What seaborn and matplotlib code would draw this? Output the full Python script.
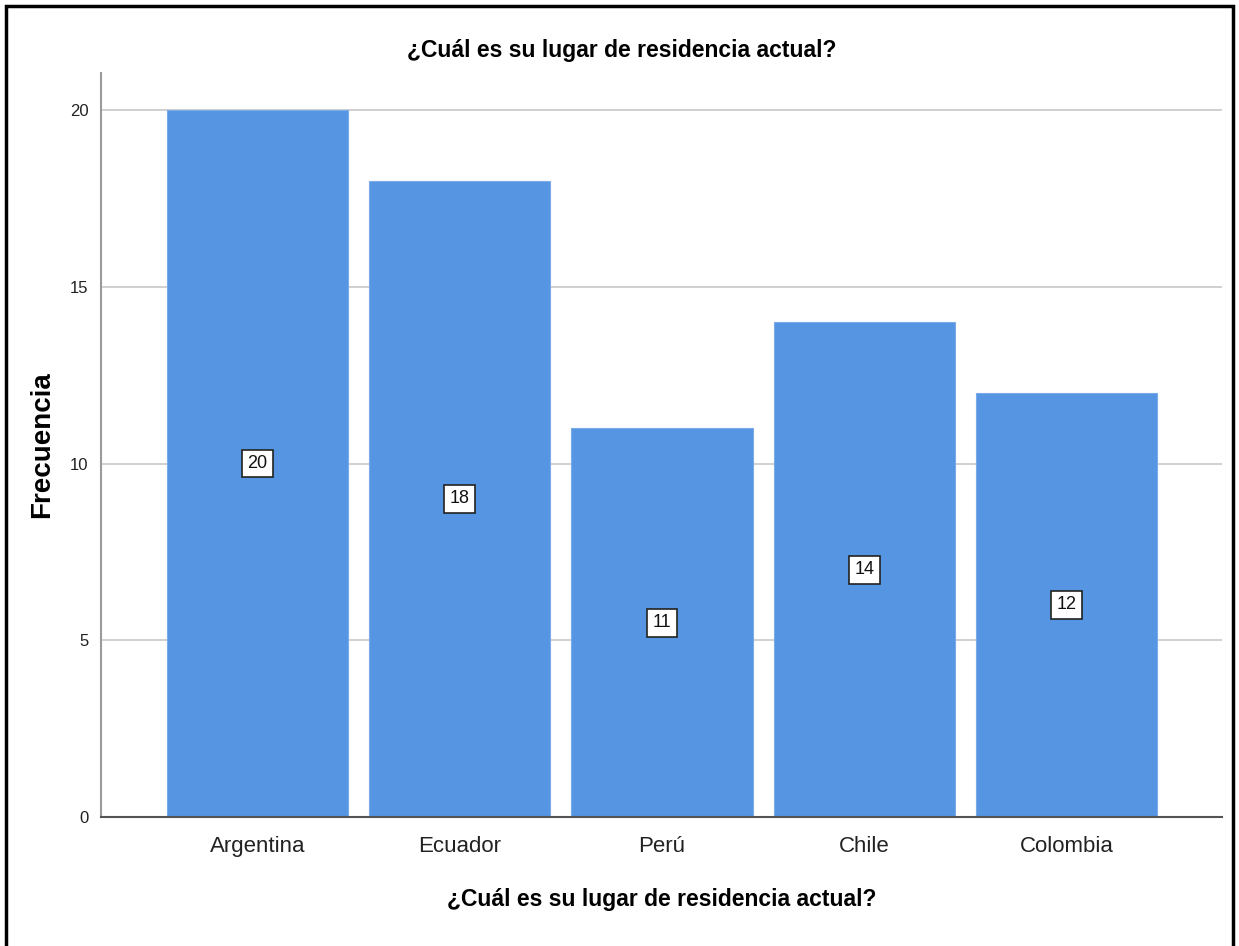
import matplotlib
matplotlib.use("Agg")
import matplotlib.pyplot as plt
import seaborn as sns
import pandas as pd
from matplotlib.patches import Rectangle

countries = ["Argentina", "Ecuador", "Perú", "Chile", "Colombia"]
counts = [20, 18, 11, 14, 12]
y_ticks = [0, 5, 10, 15, 20]
title_text = "¿Cuál es su lugar de residencia actual?"
y_label = "Frecuencia"

sns.set_theme(style="white")
plt.rcParams["font.family"] = ["Liberation Sans Narrow", "Liberation Sans", "DejaVu Sans"]

df = pd.DataFrame({"pais": countries, "frecuencia": counts})

fig = plt.figure(figsize=(12.39, 9.46), dpi=100)
ax = fig.add_axes([101 / 1239, 1 - 817 / 946, (1222 - 101) / 1239, (817 - 73) / 946])

ax.yaxis.grid(True, color="#c8c8c8", linewidth=1.2, zorder=0)
ax.set_axisbelow(True)

sns.barplot(data=df, x="pais", y="frecuencia", order=countries, color="#5595e2",
            saturation=1, width=0.896, edgecolor="#7aaae8", linewidth=0.8, ax=ax, zorder=2)

ax.set_xlim(-0.775, 4.77)
ax.set_ylim(0, 21.05)
ax.set_yticks(y_ticks)
ax.set_yticklabels([str(t) for t in y_ticks], fontsize=12, color="#222222")
ax.tick_params(axis="x", labelsize=16, colors="#222222", pad=14, length=0)
ax.tick_params(axis="y", length=0, pad=9)

for side in ["top", "right"]:
    ax.spines[side].set_visible(False)
ax.spines["left"].set_color("#9a9a9a")
ax.spines["left"].set_linewidth(1.5)
ax.spines["bottom"].set_color("#555555")
ax.spines["bottom"].set_linewidth(1.5)

for i, v in enumerate(counts):
    ax.text(i, v / 2, str(v), ha="center", va="center", fontsize=13, color="#111111",
            bbox=dict(boxstyle="square,pad=0.3", facecolor="white", edgecolor="#222222", linewidth=1.2),
            zorder=5)

bold_family = ["Liberation Sans", "DejaVu Sans"]
ax.set_xlabel(title_text, fontsize=16.5, fontweight="bold", labelpad=22, color="black",
              family=bold_family)
ax.set_ylabel(y_label, fontsize=20, fontweight="bold", color="black", family=bold_family)
ax.yaxis.label.set_va("center")
ax.yaxis.set_label_coords(-0.0526, 0.5)
fig.text(622 / 1239, 1 - 50 / 946, title_text, ha="center", va="center", fontsize=16.5,
         fontweight="bold", color="black", family=bold_family)

# outer frame around the whole chart
fig.patches.append(Rectangle((6 / 1239, -0.01), 1227 / 1239, 1 - 6 / 946 + 0.01,
                             transform=fig.transFigure, fill=False, edgecolor="black",
                             linewidth=2.5))

fig.savefig("out.png", dpi=100, facecolor="white")
